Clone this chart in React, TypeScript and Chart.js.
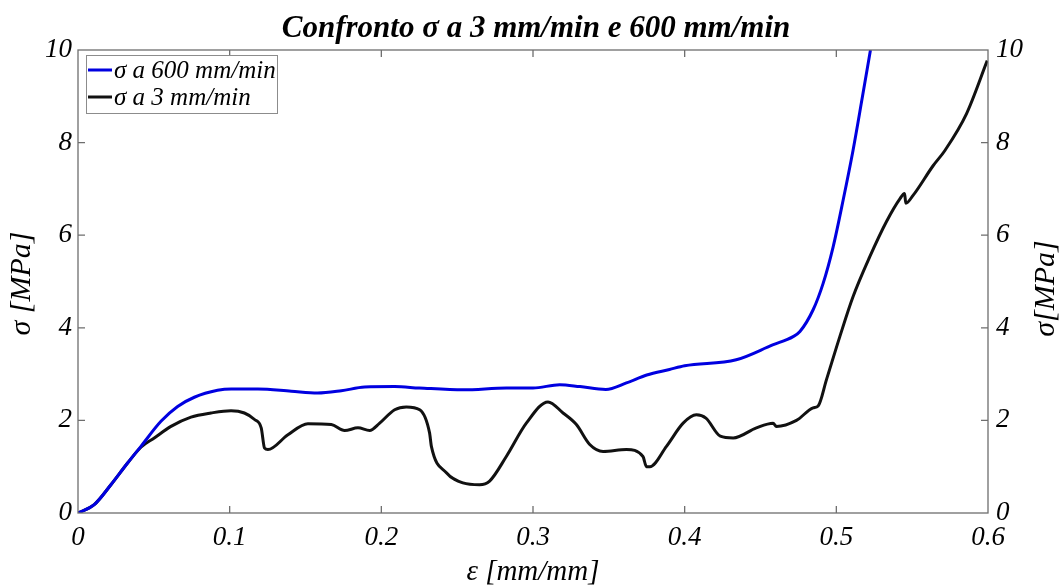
import React, { useEffect, useRef } from "react";
import { Chart, registerables } from "chart.js";

Chart.register(...registerables);

const TITLE = "Confronto σ a 3 mm/min e 600 mm/min";
const X_TITLE = "ε [mm/mm]";
const Y_TITLE_LEFT = "σ [MPa]";
const Y_TITLE_RIGHT = "σ[MPa]";
const LABEL_600 = "σ a 600 mm/min";
const LABEL_3 = "σ a 3 mm/min";

const xTicks = [0, 0.1, 0.2, 0.3, 0.4, 0.5, 0.6];
const yTicks = [0, 2, 4, 6, 8, 10];

const strain600 = [
  0, 0.0107, 0.0217, 0.0327, 0.0415, 0.0547, 0.0657, 0.0767, 0.092, 0.101,
  0.1186, 0.1406, 0.158, 0.1736, 0.189, 0.2088, 0.225, 0.254, 0.2825, 0.3, 0.3176,
  0.331, 0.348, 0.3616, 0.375, 0.39, 0.4, 0.434, 0.458, 0.4715, 0.476, 0.4847,
  0.4913, 0.4979, 0.5045, 0.511, 0.517, 0.5225,
];
const stress600 = [
  0, 0.18, 0.61, 1.08, 1.44, 1.98, 2.3, 2.5, 2.65, 2.68,
  2.68, 2.63, 2.59, 2.64, 2.72, 2.73, 2.7, 2.66, 2.7, 2.7, 2.77,
  2.73, 2.67, 2.81, 2.98, 3.1, 3.18, 3.31, 3.63, 3.81, 3.92, 4.39,
  4.96, 5.75, 6.76, 7.83, 8.95, 10.0,
];

const strain3 = [
  0, 0.0107, 0.0217, 0.0327, 0.0415, 0.0503, 0.0613, 0.0745, 0.0877, 0.1009,
  0.1097, 0.1164, 0.1208, 0.123, 0.1252, 0.1384, 0.1516, 0.167, 0.1758, 0.1846,
  0.1923, 0.1989, 0.2088, 0.2165, 0.2253, 0.2318, 0.233, 0.2429, 0.2538, 0.2648,
  0.2714, 0.2824, 0.2956, 0.3099, 0.3198, 0.3286, 0.3374, 0.3462, 0.3616, 0.3725,
  0.3748, 0.377, 0.388, 0.399, 0.4077, 0.414, 0.4235, 0.432, 0.4473, 0.4583,
  0.4605, 0.4737, 0.4847, 0.488, 0.4935, 0.5023, 0.511, 0.522, 0.533, 0.542,
  0.545, 0.5458, 0.5506, 0.5638, 0.5716, 0.5858, 0.5995,
];
const stress3 = [
  0, 0.18, 0.61, 1.08, 1.42, 1.62, 1.87, 2.07, 2.16, 2.21,
  2.16, 2.02, 1.84, 1.4, 1.37, 1.69, 1.93, 1.91, 1.78, 1.84,
  1.78, 1.94, 2.23, 2.29, 2.23, 1.73, 1.44, 0.87, 0.65, 0.61,
  0.69, 1.22, 1.94, 2.4, 2.16, 1.91, 1.48, 1.33, 1.37, 1.22,
  1.0, 1.0, 1.44, 1.94, 2.12, 2.05, 1.66, 1.62, 1.84, 1.94,
  1.87, 2.0, 2.27, 2.31, 2.88, 3.81, 4.67, 5.53, 6.29, 6.79,
  6.9, 6.69, 6.86, 7.5, 7.83, 8.62, 9.77,
];

const SERIF = "'Liberation Serif', 'Times New Roman', serif";
const AXIS_COLOR = "#6e6e6e";

const fmt = (v: number) => String(Math.round(v * 10) / 10);

const overlayPlugin = {
  id: "overlay",
  afterDatasetsDraw(chart: any) {
    const { ctx, chartArea, scales } = chart;
    const { left, right, top, bottom } = chartArea;
    const x = scales.x;
    const y = scales.y;
    ctx.save();
    ctx.strokeStyle = AXIS_COLOR;
    ctx.lineWidth = 1.3;
    ctx.strokeRect(left, top, right - left, bottom - top);
    const tl = 7;
    ctx.beginPath();
    xTicks.slice(1, -1).forEach((v) => {
      const px = x.getPixelForValue(v);
      ctx.moveTo(px, bottom);
      ctx.lineTo(px, bottom - tl);
      ctx.moveTo(px, top);
      ctx.lineTo(px, top + tl);
    });
    yTicks.slice(1, -1).forEach((v) => {
      const py = y.getPixelForValue(v);
      ctx.moveTo(left, py);
      ctx.lineTo(left + tl, py);
      ctx.moveTo(right, py);
      ctx.lineTo(right - tl, py);
    });
    ctx.stroke();

    // legend
    const lx = 86, ly = 55, lw = 191, lh = 58;
    ctx.fillStyle = "#ffffff";
    ctx.fillRect(lx, ly, lw, lh);
    ctx.strokeStyle = "#8c8c8c";
    ctx.lineWidth = 1;
    ctx.strokeRect(lx + 0.5, ly + 0.5, lw, lh);
    chart.data.datasets.forEach((ds: any, i: number) => {
      const rowY = ly + 15 + i * 27;
      ctx.strokeStyle = ds.borderColor;
      ctx.lineWidth = 3;
      ctx.beginPath();
      ctx.moveTo(lx + 2, rowY);
      ctx.lineTo(lx + 26, rowY);
      ctx.stroke();
      ctx.fillStyle = "#000";
      ctx.font = `italic 25px ${SERIF}`;
      ctx.textAlign = "left";
      ctx.textBaseline = "middle";
      ctx.fillText(ds.label, lx + 28, rowY + 1);
    });
    ctx.restore();
  },
  afterDraw(chart: any) {
    const { ctx, chartArea } = chart;
    const { left, right, top, bottom } = chartArea;
    const cx = (left + right) / 2;
    const cy = (top + bottom) / 2;
    ctx.save();
    ctx.fillStyle = "#000";
    ctx.textAlign = "center";
    ctx.textBaseline = "middle";
    ctx.font = `bold italic 31px ${SERIF}`;
    ctx.fillText(TITLE, cx + 3, 29);
    ctx.font = `italic 29px ${SERIF}`;
    ctx.fillText(X_TITLE, cx, 572);
    ctx.font = `italic 30px ${SERIF}`;
    ctx.save();
    ctx.translate(22, cy + 2);
    ctx.rotate(-Math.PI / 2);
    ctx.fillText(Y_TITLE_LEFT, 0, 0);
    ctx.restore();
    ctx.save();
    ctx.translate(1046, cy + 7);
    ctx.rotate(-Math.PI / 2);
    ctx.fillText(Y_TITLE_RIGHT, 0, 0);
    ctx.restore();
    ctx.restore();
  },
};

export default function App() {
  const ref = useRef<HTMLCanvasElement | null>(null);

  useEffect(() => {
    if (!ref.current) return;
    const tickFont = { family: SERIF, style: "italic" as const, size: 27 };
    const chart = new Chart(ref.current, {
      type: "line",
      data: {
        datasets: [
          {
            label: LABEL_600,
            data: strain600.map((v, i) => ({ x: v, y: stress600[i] })),
            borderColor: "#0000e0",
            borderWidth: 3,
            pointRadius: 0,
            cubicInterpolationMode: "monotone",
            fill: false,
          },
          {
            label: LABEL_3,
            data: strain3.map((v, i) => ({ x: v, y: stress3[i] })),
            borderColor: "#111111",
            borderWidth: 3,
            pointRadius: 0,
            cubicInterpolationMode: "monotone",
            fill: false,
          },
        ],
      },
      options: {
        responsive: false,
        animation: false,
        layout: { padding: { top: 50, left: 0, right: 0, bottom: 0 } },
        plugins: {
          legend: { display: false },
          title: { display: false },
          tooltip: { enabled: false },
        },
        scales: {
          x: {
            type: "linear",
            position: "bottom",
            min: 0,
            max: 0.6,
            grid: { display: false, drawTicks: false },
            border: { display: false },
            afterBuildTicks: (s: any) => {
              s.ticks = xTicks.map((v) => ({ value: v }));
            },
            afterFit: (s: any) => {
              s.height = 75;
            },
            ticks: {
              font: tickFont,
              color: "#000",
              padding: 9,
              maxRotation: 0,
              autoSkip: false,
              callback: (v: any) => fmt(Number(v)),
            },
          },
          y: {
            type: "linear",
            position: "left",
            min: 0,
            max: 10,
            grid: { display: false, drawTicks: false },
            border: { display: false },
            afterBuildTicks: (s: any) => {
              s.ticks = yTicks.map((v) => ({ value: v }));
            },
            afterFit: (s: any) => {
              s.width = 78;
            },
            ticks: {
              font: tickFont,
              color: "#000",
              padding: 6,
              callback: (v: any) => fmt(Number(v)),
            },
          },
          y2: {
            type: "linear",
            position: "right",
            min: 0,
            max: 10,
            grid: { display: false, drawTicks: false },
            border: { display: false },
            afterBuildTicks: (s: any) => {
              s.ticks = yTicks.map((v) => ({ value: v }));
            },
            afterFit: (s: any) => {
              s.width = 72;
            },
            ticks: {
              font: tickFont,
              color: "#000",
              padding: 8,
              callback: (v: any) => fmt(Number(v)),
            },
          },
        },
      } as any,
      plugins: [overlayPlugin],
    });
    return () => chart.destroy();
  }, []);

  return (
    <div style={{ position: "absolute", left: 0, top: 0, width: 1060, height: 588, background: "#fff" }}>
      <canvas ref={ref} width={1060} height={588} />
    </div>
  );
}
